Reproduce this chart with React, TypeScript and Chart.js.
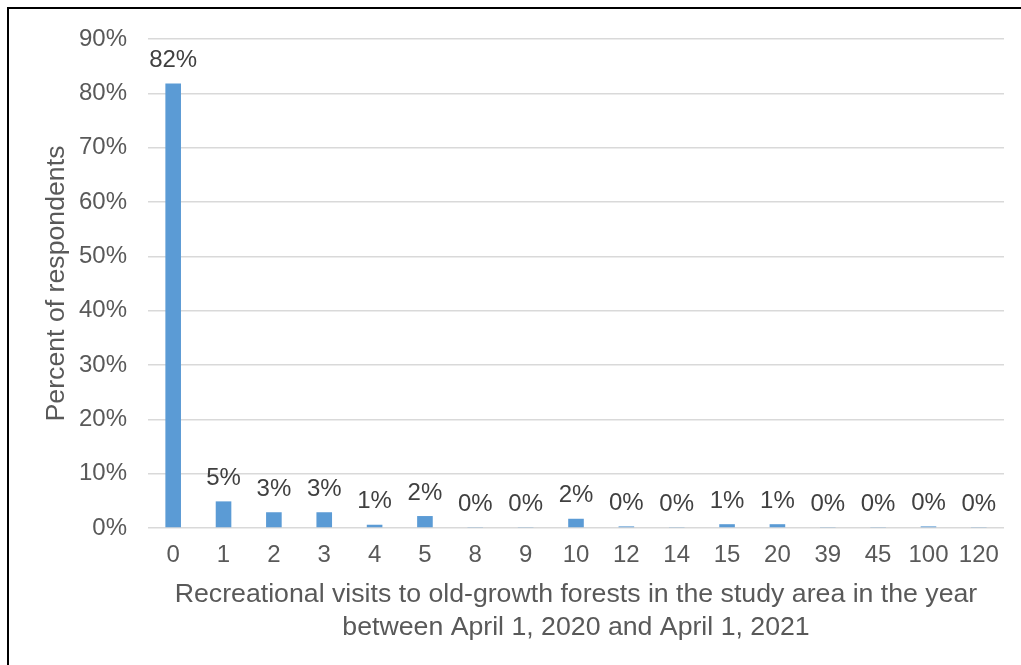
import React, { useEffect, useRef } from "react";
import { Chart, registerables } from "chart.js";

Chart.register(...registerables);

const categories = ["0", "1", "2", "3", "4", "5", "8", "9", "10", "12", "14", "15", "20", "39", "45", "100", "120"];
const percentValues = [81.8, 4.9, 2.9, 2.9, 0.6, 2.2, 0.1, 0.1, 1.7, 0.3, 0.1, 0.7, 0.7, 0.1, 0.1, 0.3, 0.1];
const yTickMax = 90;
const yTickStep = 10;
const xTitleLines = [
  "Recreational visits to old-growth forests in the study area in the year",
  "between April 1, 2020 and April 1, 2021",
];
const yTitle = "Percent of respondents";

const FONT = "Arial, 'Liberation Sans', sans-serif";

const dataLabelPlugin = {
  id: "dataLabels",
  afterDatasetsDraw(chart: any) {
    const ctx = chart.ctx;
    const meta = chart.getDatasetMeta(0);
    ctx.save();
    ctx.font = `24px ${FONT}`;
    ctx.fillStyle = "#404040";
    ctx.textAlign = "center";
    ctx.textBaseline = "middle";
    meta.data.forEach((el: any, i: number) => {
      const v = percentValues[i];
      ctx.fillText(`${Math.round(v)}%`, el.x, el.y - 23);
    });
    ctx.restore();
  },
};

export default function App() {
  const ref = useRef<HTMLCanvasElement | null>(null);

  useEffect(() => {
    if (!ref.current) return;
    const chart = new Chart(ref.current, {
      type: "bar",
      data: {
        labels: categories,
        datasets: [
          {
            data: percentValues,
            backgroundColor: "#5B9BD5",
            borderWidth: 0,
            categoryPercentage: 1,
            barPercentage: 0.31,
          },
        ],
      },
      options: {
        animation: false,
        responsive: false,
        layout: { padding: { top: 39, right: 17, left: 0, bottom: 0 } },
        plugins: {
          legend: { display: false },
          tooltip: { enabled: false },
        },
        scales: {
          x: {
            grid: { display: false, drawTicks: false },
            border: { display: false },
            ticks: {
              color: "#595959",
              font: { family: FONT, size: 24 },
              padding: 13,
              maxRotation: 0,
              autoSkip: false,
            },
            title: {
              display: true,
              text: xTitleLines,
              color: "#595959",
              font: { family: FONT, size: 26.7, lineHeight: 1.236 },
              padding: { top: 0, bottom: 21 },
            },
            afterFit(scale: any) {
              scale.height = 137;
            },
          },
          y: {
            min: 0,
            max: yTickMax,
            grid: { color: "#D9D9D9", lineWidth: 1.5, drawTicks: false },
            border: { display: false },
            ticks: {
              stepSize: yTickStep,
              color: "#595959",
              font: { family: FONT, size: 24 },
              padding: 21,
              callback: (v: any) => `${v}%`,
            },
            title: {
              display: true,
              text: yTitle,
              color: "#595959",
              font: { family: FONT, size: 26.7 },
              padding: { top: 41, bottom: 0 },
            },
            afterFit(scale: any) {
              scale.width = 148;
            },
          },
        },
      },
      plugins: [dataLabelPlugin],
    });
    return () => chart.destroy();
  }, []);

  return (
    <div
      style={{
        position: "fixed",
        left: 0,
        top: 0,
        width: 1021,
        height: 665,
        overflow: "hidden",
        background: "#ffffff",
      }}
    >
      <canvas ref={ref} width={1021} height={665} style={{ display: "block", position: "absolute", left: 0, top: 0 }} />
      <div
        style={{
          position: "absolute",
          left: 7,
          top: 7,
          width: 1100,
          height: 800,
          border: "2px solid #000000",
          pointerEvents: "none",
        }}
      />
    </div>
  );
}
